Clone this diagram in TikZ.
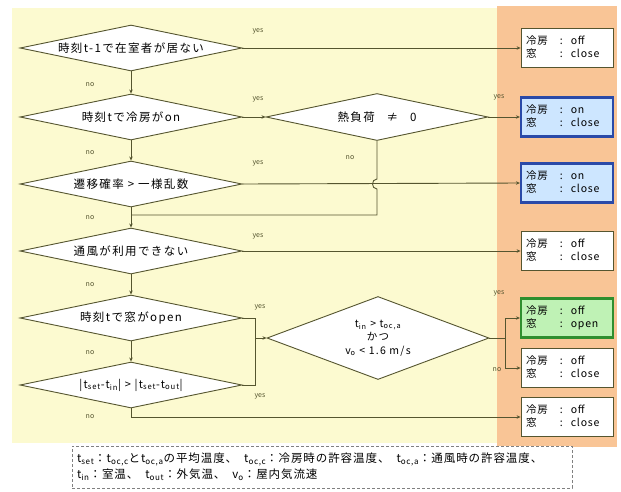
\documentclass[tikz,border=0pt]{standalone}
\usepackage{fontspec}
\setmainfont{Noto Sans CJK JP}
\newfontfamily\jpls[LetterSpace=12]{Noto Sans CJK JP}
\newfontfamily\jplw[LetterSpace=8]{Noto Sans CJK JP}
\usetikzlibrary{shapes.geometric,arrows.meta}
\definecolor{bgyel}{HTML}{FCFAD0}
\definecolor{bgora}{HTML}{F9C596}
\definecolor{ln}{HTML}{55552F}
\definecolor{bluebd}{HTML}{2A4AA8}
\definecolor{bluefl}{HTML}{CDE6FF}
\definecolor{greenbd}{HTML}{2F8F2F}
\definecolor{greenfl}{HTML}{BFF2B5}
\tikzset{
 dec/.style={diamond, draw=ln, fill=white, line width=0.9pt, minimum width=222pt, minimum height=46pt, aspect=5, inner sep=0pt, font=\jpls\fontsize{11.5}{13}\selectfont, align=center},
 res/.style={rectangle, draw=ln, fill=white, line width=0.8pt, minimum width=92pt, minimum height=39pt, text width=86pt, inner sep=0pt, align=left, font=\jplw\fontsize{10.5}{13}\selectfont},
 resblue/.style={res, draw=bluebd, fill=bluefl, line width=2.2pt},
 resgreen/.style={res, draw=greenbd, fill=greenfl, line width=2.2pt},
 flow/.style={draw=ln, line width=0.9pt, -{Stealth[length=4pt,width=3.5pt]}},
 conn/.style={draw=ln, line width=0.9pt},
 lbl/.style={font=\fontsize{7}{8}\selectfont, text=ln, inner sep=1pt},
}
\newcommand{\stbox}[2]{\hspace{2pt}\begin{tabular}{@{}l@{\hspace{12pt}}l@{}}冷房&:\hspace{8pt}#1\\窓&:\hspace{8pt}#2\end{tabular}}
\newcommand{\lsep}{\hspace{7pt}}
\begin{document}
\begin{tikzpicture}[x=1pt,y=-1pt]
\useasboundingbox (0,0) rectangle (621,491);
\fill[bgyel] (12,8) rectangle (500,443);
\fill[bgora] (497,6) rectangle (617,447);

% decisions
\node[dec] (d1) at (131,48) {時刻t-1で在室者が居ない};
\node[dec] (d2) at (131,117) {時刻tで冷房がon};
\node[dec] (d3) at (131,184) {遷移確率 > 一様乱数};
\node[dec] (d4) at (131,251) {通風が利用できない};
\node[dec] (d5) at (131,318) {時刻tで窓がopen};
\node[dec, font=\jpls\fontsize{11}{12}\selectfont] (d6) at (131,385) {|t\textsubscript{set}-t\textsubscript{in}| > |t\textsubscript{set}-t\textsubscript{out}|};
\node[dec, minimum height=47pt] (hd) at (377,117) {熱負荷 \ \ ≠ \ \ 0};
\node[dec, minimum height=83pt, aspect=2.7, font=\jpls\fontsize{10.5}{13.5}\selectfont] (bd) at (378,338) {t\textsubscript{in} > t\textsubscript{oc,a}\\かつ\\v\textsubscript{o} < 1.6 m/s};

% results
\node[res] (r1) at (567,48) {\stbox{off}{close}};
\node[resblue] (r2) at (567,117) {\stbox{on}{close}};
\node[resblue] (r3) at (567,183) {\stbox{on}{close}};
\node[res] (r4) at (567,251) {\stbox{off}{close}};
\node[resgreen] (r5) at (567,318) {\stbox{off}{open}};
\node[res] (r6) at (567,368) {\stbox{off}{close}};
\node[res] (r7) at (567,417) {\stbox{off}{close}};

% junctions
\coordinate (j3) at (131,215);
\coordinate (j5) at (255,338);
\coordinate (j6) at (505,338);

% vertical "no" flows
\draw[flow] (d1.south) -- (d2.north);
\draw[flow] (d2.south) -- (d3.north);
\draw[flow] (d3.south) -- (d4.north);
\draw[flow] (d4.south) -- (d5.north);
\draw[flow] (d5.south) -- (d6.north);
\draw[flow] (d6.south) |- (r7.west);

% yes flows
\draw[flow] (d1.east) -- (r1.west);
\draw[flow] (d2.east) -- (hd.west);
\draw[flow] (hd.east) -- (r2.west);
\draw[flow] (d3.east) -- (r3.west);
\draw[flow] (d4.east) -- (r4.west);
\draw[conn] (hd.south) -- (377,179) .. controls (371,179) and (371,189) .. (377,189) -- (377,215) -- (j3);
\draw[conn] (d5.east) -| (j5);
\draw[conn] (d6.east) -| (j5);
\draw[flow] (j5) -- (bd.west);
\draw[conn] (bd.east) -- (j6);
\draw[flow] (j6) |- (r5.west);
\draw[flow] (j6) |- (r6.west);

% labels
\node[lbl] (y1) at (258,31) {yes};
\node[lbl] (y2) at (258,99) {yes};
\node[lbl] (y3) at (499,97) {yes};
\node[lbl] (y4) at (258,163) {yes};
\node[lbl] (y5) at (258,236) {yes};
\node[lbl] (y6) at (260,307) {yes};
\node[lbl] (y7) at (260,396) {yes};
\node[lbl] (y8) at (499,293) {yes};
\node[lbl] (n8) at (497,370) {no};
\node[lbl] (n0) at (350,158) {no};
\node[lbl] (n1) at (90,85) {no};
\node[lbl] (n2) at (90,153) {no};
\node[lbl] (n3) at (90,218) {no};
\node[lbl] (n4) at (90,285) {no};
\node[lbl] (n5) at (90,353) {no};
\node[lbl] (n6) at (90,417) {no};

% legend
\node[draw=gray, densely dashed, fill=white, minimum width=500pt, minimum height=42pt, align=left, text width=490pt, font=\jplw\fontsize{11.5}{16}\selectfont] (lg) at (322,467)
 {t\textsubscript{set}：t\textsubscript{oc,c}とt\textsubscript{oc,a}の平均温度、\lsep t\textsubscript{oc,c}：冷房時の許容温度、\lsep t\textsubscript{oc,a}：通風時の許容温度、\\
  t\textsubscript{in}：室温、\lsep t\textsubscript{out}：外気温、\lsep v\textsubscript{o}：屋内気流速};
\end{tikzpicture}
\end{document}
